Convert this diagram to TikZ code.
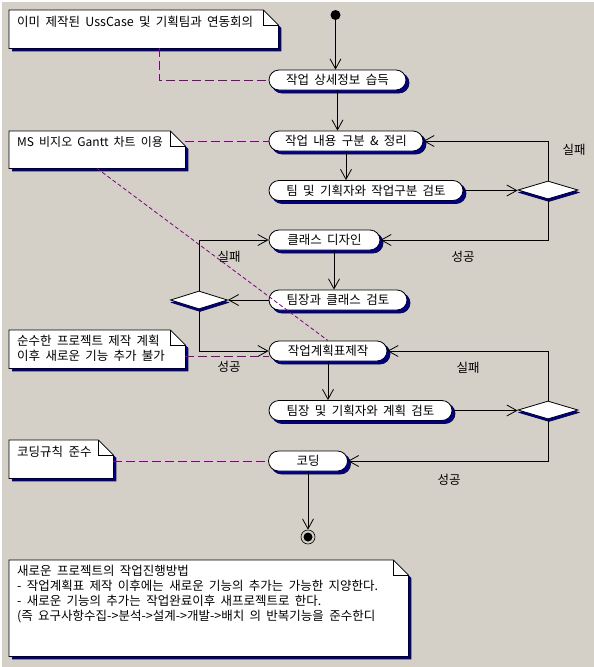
\documentclass[tikz,border=0pt]{standalone}
\usepackage{fontspec}
\newfontfamily\kr[WordSpace=1.9]{Noto Sans CJK KR}
\usetikzlibrary{arrows.meta,shapes.geometric,shadows}
\definecolor{bgc}{HTML}{D4D0C8}
\definecolor{shd}{HTML}{000080}
\definecolor{dshc}{HTML}{800080}
\newcommand\notebox[2]{%
  \fill[shd] ([shift={(3,3)}]#1.north west) -- ([shift={(3-#2,3)}]#1.north east) -- ([shift={(3,3+#2)}]#1.north east) -- ([shift={(3,3)}]#1.south east) -- ([shift={(3,3)}]#1.south west) -- cycle;
  \filldraw[fill=white, draw=black, line width=0.8pt] (#1.north west) -- ([shift={(-#2,0)}]#1.north east) -- ([shift={(0,#2)}]#1.north east) -- (#1.south east) -- (#1.south west) -- cycle;
  \draw[line width=0.8pt] ([shift={(-#2,0)}]#1.north east) |- ([shift={(0,#2)}]#1.north east);
}
\begin{document}
\begin{tikzpicture}[x=1pt,y=-1pt,
  every node/.style={font=\kr\fontsize{12.5}{15}\selectfont},
  act/.style={draw, fill=white, rounded corners=10pt, minimum height=20pt, inner sep=0pt, line width=0.8pt,
    copy shadow={shadow xshift=3pt, shadow yshift=-3pt, fill=shd, draw=shd}},
  dia/.style={diamond, draw, fill=white, inner sep=0pt, aspect=3.3, minimum width=60pt, minimum height=18pt, line width=0.8pt,
    copy shadow={shadow xshift=1pt, shadow yshift=-2.5pt, fill=shd, draw=shd}},
  notebg/.style={inner sep=0pt, anchor=north west},
  ntext/.style={inner sep=0pt, anchor=west, align=left},
  arr/.style={line width=0.8pt, -{Straight Barb[length=10pt, width=11pt, line width=0.8pt]}},
  dsh/.style={draw=dshc, line width=0.8pt, dash pattern=on 9pt off 4pt},
  dshd/.style={draw=dshc, line width=0.8pt, dash pattern=on 4pt off 2.5pt},
  lbl/.style={inner sep=0pt}
]
\useasboundingbox (0,0) rectangle (594,667);
\fill[bgc] (0,0) rectangle (594,667);
\fill[white] (0,0) rectangle (594,1.5);
\fill[white] (0,0) rectangle (1.5,667);

% notes
\node[notebg, minimum width=269pt, minimum height=38pt] (n1) at (9,10) {};
\notebox{n1}{15}
\node[ntext] (n1t) at (17,21.5) {이미 제작된 UssCase 및 기획팀과 연동회의};

\node[notebg, minimum width=176pt, minimum height=37pt] (n2) at (9,131) {};
\notebox{n2}{15}
\node[ntext, font=\kr\fontsize{12}{15}\selectfont] (n2t) at (17,141.7) {MS 비지오 Gantt 차트 이용};

\node[notebg, minimum width=176pt, minimum height=38pt] (n3) at (9,330) {};
\notebox{n3}{15}
\node[ntext] (n3t) at (17,348.2) {순수한 프로젝트 제작 계획\\이후 새로운 기능 추가 불가};

\node[notebg, minimum width=104pt, minimum height=38pt] (n4) at (9,440) {};
\notebox{n4}{15}
\node[ntext] (n4t) at (17,451.7) {코딩규칙 준수};

\node[notebg, minimum width=399pt, minimum height=96pt] (n5) at (9,560) {};
\notebox{n5}{15}
\node[ntext] (n5t) at (17,594.5) {새로운 프로젝트의 작업진행방법\\- 작업계획표 제작 이후에는 새로운 기능의 추가는 가능한 지양한다.\\- 새로운 기능의 추가는 작업완료이후 새프로젝트로 한다.\\(즉 요구사항수집->분석->설계->개발->배치 의 반복기능을 준수한디};

% start / end
\node[circle, fill=black, inner sep=0pt, minimum size=10pt] (st) at (335.5,15) {};
\node[circle, draw, line width=0.6pt, inner sep=0pt, minimum size=14pt] (fin) at (308,537) {};
\node[circle, fill=black, inner sep=0pt, minimum size=9pt] (fin2) at (fin) {};

% activities
\node[act, minimum width=137pt] (a1) at (337.5,80) {작업 상세정보 습득};
\node[act, minimum width=154pt] (a2) at (346,141) {작업 내용 구분 \& 정리};
\node[act, minimum width=194pt] (a3) at (366,190.5) {팀 및 기획자와 작업구분 검토};
\node[act, minimum width=111pt] (a4) at (324.5,240) {클래스 디자인};
\node[act, minimum width=138pt] (a5) at (338,300) {팀장과 클래스 검토};
\node[act, minimum width=118pt] (a6) at (328,351) {작업계획표제작};
\node[act, minimum width=183pt] (a7) at (360.5,410.5) {팀장 및 기획자와 계획 검토};
\node[act, minimum width=79pt] (a8) at (308,461) {코딩};

% decisions
\node[dia] (d1) at (548,190) {};
\node[dia, minimum width=57pt] (d2) at (199,300) {};
\node[dia] (d3) at (548,410) {};

\coordinate (c45) at (334,0);

% control flow
\draw[arr] (st) -- (st |- a1.north);
\draw[arr] (a1.south) -- (a1.south |- a2.north);
\draw[arr] (a2.south) -- (a2.south |- a3.north);
\draw[arr] (a3.east) -- (a3.east -| d1.west);
\draw[arr] (d1.north) |- (a2.east);
\draw[arr] (d1.south) |- (a4.east);
\draw[arr] (a4.south -| c45) -- (a5.north -| c45);
\draw[arr] (a5.west) -- (a5.west -| d2.east);
\draw[arr] (d2.north) |- (a4.west);
\draw[arr] (d2.south) |- (a6.west);
\draw[arr] (a6.south) -- (a6.south |- a7.north);
\draw[arr] (a7.east) -- (a7.east -| d3.west);
\draw[arr] (d3.north) |- (a6.east);
\draw[arr] (d3.south) |- (a8.east);
\draw[arr] (a8.south) -- (fin.north);

% note links
\draw[dsh] ([xshift=150pt]n1.south west) |- (a1.west);
\draw[dsh] (n2.east |- a2.west) -- (a2.west);
\draw[dshd] ([xshift=88pt]n2.south west) -- (a6.north);
\draw[dsh] ([yshift=-5pt]a6.west -| n3.east) -- ([yshift=-5pt]a6.west);
\draw[dsh] (a8.west -| n4.east) -- (a8.west);

% guard labels
\node[lbl] (l1) at (574,150) {실패};
\node[lbl] (l2) at (463,257) {성공};
\node[lbl] (l3) at (229,257) {실패};
\node[lbl] (l4) at (229,367) {성공};
\node[lbl] (l5) at (468,368) {실패};
\node[lbl] (l6) at (449,480) {성공};
\end{tikzpicture}
\end{document}
